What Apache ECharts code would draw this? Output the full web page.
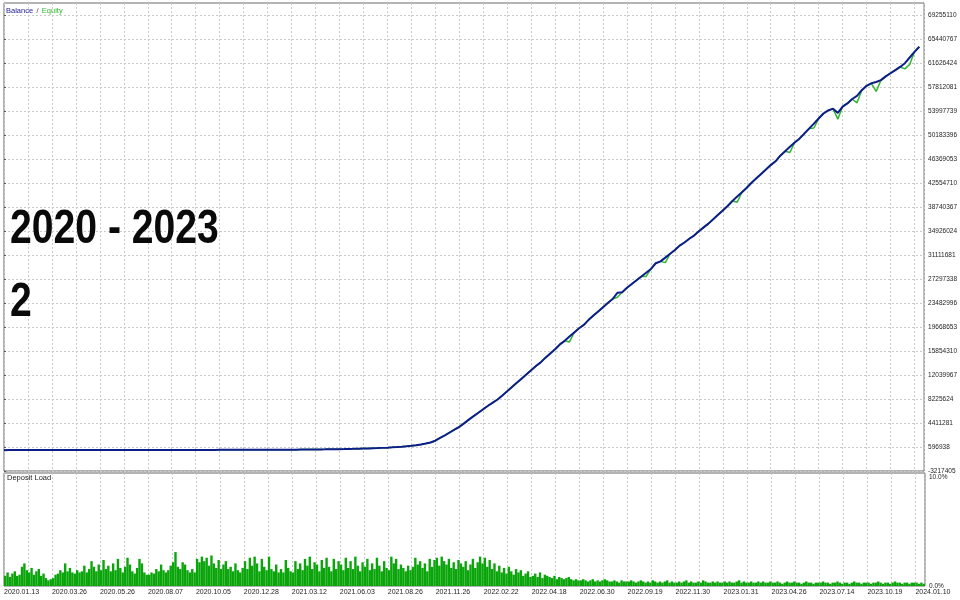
<!DOCTYPE html>
<html><head><meta charset="utf-8">
<script src="https://cdn.jsdelivr.net/npm/echarts@6/dist/echarts.min.js"></script>
<style>html,body{margin:0;padding:0;background:#fff}#c{width:960px;height:600px}</style>
</head><body><div id="c"></div>
<script>
// x axis date labels (one every 20 deal units)
const dateLabels = ['2020.01.13','2020.03.26','2020.05.26','2020.08.07','2020.10.05','2020.12.28','2021.03.12','2021.06.03','2021.08.26','2021.11.26','2022.02.22','2022.04.18','2022.06.30','2022.09.19','2022.11.30','2023.01.31','2023.04.26','2023.07.14','2023.10.19','2024.01.10'];
// right axis tick labels of the balance panel
const balanceTicks = ['-3217405','596938','4411281','8225624','12039967','15854310','19668653','23482996','27297338','31111681','34926024','38740367','42554710','46369053','50183396','53997739','57812081','61626424','65440767','69255110'];
// balance, one value every 2 deal units
const balance = [
100000,100300,100900,101200,101900,102300,103000,103400,104100,104900,
105300,106100,106600,107400,108300,108800,109700,110300,111200,112100,
112700,113600,114600,115200,116200,117000,118100,118800,119900,121000,
121800,122900,124100,125000,126200,127400,128400,129700,131000,132100,
133500,134900,136100,137600,139200,140500,142100,143800,145300,147100,
148900,150500,152600,154300,156500,158400,160800,162900,165500,167800,
170000,175000,181000,186000,194000,201000,212000,220000,233000,245000,
258000,272000,290000,305000,326000,348000,370000,398000,425000,458000,
495000,540000,590000,650000,720000,800000,890000,1010000,1150000,1320000,
1600000,2050000,2450000,2900000,3350000,3800000,4350000,4950000,5500000,6050000,
6600000,7150000,7650000,8150000,8790000,9450000,10120000,10790000,11460000,12130000,
12800000,13460000,14050000,14800000,15470000,16140000,16900000,17470000,18140000,18810000,
19470000,20000000,20810000,21480000,22150000,22820000,23480000,24120000,25100000,25200000,
25900000,26500000,27100000,27700000,28300000,28900000,29800000,30100000,30700000,31300000,
31900000,32600000,33100000,33700000,34200000,34900000,35500000,36100000,36800000,37500000,
38200000,38900000,39700000,40400000,41100000,41800000,42600000,43300000,44000000,44700000,
45400000,46000000,46900000,47600000,48300000,49000000,49600000,50400000,51200000,52000000,
52800000,53600000,54100000,54350000,53700000,54700000,55200000,55900000,56400000,57300000,
58000000,58400000,58600000,58900000,59500000,60000000,60500000,61000000,61600000,62500000,
63400000,64200000
];
// equity drawdowns: [balance index, equity value]
const equityDips = [[118,17300000],[128,24400000],[134,27700000],[138,29900000],[153,39500000],[164,47400000],[169,51300000],[174,52700000],[178,55300000],[182,57100000],[188,60700000],[189,61400000]];
// deposit load %, one value per deal unit
const depositLoad = [
0.9,1.2,0.8,1.1,1.3,0.9,1.0,1.7,2.0,1.4,1.2,1.6,1.0,1.3,1.5,0.9,1.1,0.7,0.5,0.6,
0.7,1.0,1.1,1.4,1.2,2.0,1.3,1.6,1.2,1.1,1.4,1.2,1.3,1.8,1.2,1.5,2.2,1.7,1.3,1.9,
1.4,2.3,1.5,1.8,1.3,2.0,1.4,2.4,1.6,1.2,1.7,2.5,1.9,1.3,1.1,1.6,2.4,2.0,1.2,1.0,
1.0,1.2,1.1,1.5,1.3,1.9,1.4,1.2,1.4,1.8,2.1,3.0,1.7,1.5,2.1,1.9,1.4,1.2,1.5,1.2,
2.4,2.1,2.6,2.2,2.5,1.8,2.7,2.0,1.6,2.3,1.5,1.9,2.2,1.5,1.7,1.3,2.0,1.4,1.2,1.6,
2.2,1.5,2.5,1.8,2.6,2.0,1.3,2.4,1.7,1.4,2.6,1.5,1.3,1.9,1.2,1.5,1.2,2.3,1.6,1.3,
1.2,2.2,1.5,2.0,1.4,2.4,1.8,2.6,1.5,2.1,1.9,1.3,2.3,1.6,2.5,1.7,1.3,2.4,1.5,2.2,
1.9,1.4,2.5,1.6,2.2,1.5,2.6,1.8,1.3,2.1,1.7,2.4,1.4,2.0,1.5,2.5,1.8,1.3,2.2,1.6,
1.4,2.6,2.0,2.4,1.5,1.9,1.6,1.3,1.8,1.4,1.7,2.5,1.9,2.2,1.6,2.0,1.3,2.4,1.7,2.3,
2.5,1.8,2.6,2.2,1.9,2.4,1.6,2.1,1.5,2.3,2.0,1.7,2.2,1.4,1.9,2.4,1.6,2.1,2.6,2.0,
2.5,1.7,2.3,1.5,2.0,1.3,1.8,1.2,1.6,1.1,1.7,1.3,1.0,1.5,1.2,1.4,0.9,1.1,1.3,0.8,
0.9,1.1,0.8,1.2,0.7,1.0,0.9,0.8,0.7,0.9,0.6,0.8,0.7,0.6,0.7,0.8,0.6,0.5,0.6,0.5,
0.5,0.6,0.5,0.4,0.5,0.6,0.4,0.5,0.4,0.5,0.6,0.5,0.4,0.4,0.5,0.4,0.3,0.5,0.4,0.4,
0.4,0.5,0.4,0.3,0.4,0.5,0.4,0.3,0.4,0.3,0.5,0.4,0.3,0.4,0.3,0.4,0.5,0.3,0.4,0.3,
0.3,0.4,0.3,0.4,0.5,0.3,0.4,0.3,0.3,0.4,0.3,0.5,0.4,0.3,0.3,0.4,0.3,0.4,0.3,0.3,
0.4,0.3,0.4,0.3,0.3,0.4,0.5,0.3,0.4,0.3,0.3,0.4,0.3,0.3,0.4,0.3,0.4,0.3,0.3,0.4,
0.3,0.3,0.4,0.3,0.2,0.3,0.4,0.3,0.3,0.4,0.3,0.3,0.2,0.3,0.4,0.3,0.3,0.2,0.3,0.3,
0.3,0.4,0.3,0.3,0.2,0.3,0.3,0.4,0.3,0.2,0.3,0.3,0.2,0.3,0.4,0.3,0.3,0.2,0.3,0.3,
0.3,0.2,0.3,0.3,0.4,0.3,0.2,0.3,0.3,0.2,0.3,0.4,0.3,0.3,0.2,0.3,0.3,0.2,0.3,0.3,
0.3,0.2,0.3,0.2
];
const titleLines = ['2020 - 2023', '2'];

const dipMap = new Map(equityDips);
const balData = balance.map((v, i) => [i * 2, v]);
const eqData = balance.map((v, i) => [i * 2, dipMap.has(i) ? dipMap.get(i) : v]);
const depData = depositLoad.map((v, i) => [i + 0.5, v]);
const tickVals = balanceTicks.map(Number);

const grid = { color: '#c9c9c9', type: [2, 2], width: 1 };
const lblFont = 'Liberation Sans, Arial, sans-serif';
const titleStyle = { fill: '#0a0a0a', fontSize: 48, fontWeight: 'bold',
  fontFamily: 'Liberation Sans, Arial, sans-serif', verticalAlign: 'middle' };
const chart = echarts.init(document.getElementById('c'), null, { renderer: 'canvas' });
chart.setOption({
  animation: false,
  backgroundColor: '#ffffff',
  grid: [
    { left: 4, top: 3, width: 921, height: 468, show: true, borderColor: '#686868', borderWidth: 1 },
    { left: 4, top: 473, width: 921, height: 113, show: true, borderColor: '#686868', borderWidth: 1 }
  ],
  xAxis: [
    { gridIndex: 0, type: 'value', min: 0, max: 384, interval: 10,
      axisLine: { show: false }, axisTick: { show: false }, axisLabel: { show: false },
      splitLine: { show: true, lineStyle: grid } },
    { gridIndex: 1, type: 'value', min: 0, max: 384, interval: 10,
      axisLine: { show: false }, axisTick: { show: false },
      axisLabel: { show: true, margin: 3, fontSize: 7, color: '#1e1e1e', fontFamily: lblFont, align: 'left',
        hideOverlap: false, showMinLabel: true, showMaxLabel: true,
        formatter: v => (v % 20 === 0 && dateLabels[v / 20]) ? dateLabels[v / 20] : '' },
      splitLine: { show: true, lineStyle: grid } }
  ],
  yAxis: [
    { gridIndex: 0, type: 'value', position: 'right', min: -3217405, max: 71162281,
      axisLine: { show: false },
      axisTick: { show: true, customValues: tickVals, length: 2, lineStyle: { color: '#555' } },
      axisLabel: { customValues: tickVals, margin: 4, fontSize: 6.5, color: '#1e1e1e', fontFamily: lblFont,
        formatter: v => String(Math.round(v)) },
      splitLine: { show: true, lineStyle: grid } },
    { gridIndex: 1, type: 'value', position: 'right', min: 0, max: 10,
      axisLine: { show: false }, axisTick: { show: false }, splitLine: { show: false },
      axisLabel: { customValues: [0, 10], margin: 4, fontSize: 6.5, color: '#1e1e1e', fontFamily: lblFont,
        formatter: v => v >= 10 ? '{t|10.0%}' : '{b|0.0%}',
        rich: { t: { padding: [8, 0, 0, 0], fontSize: 6.5, fontFamily: lblFont, color: '#1e1e1e' },
                b: { fontSize: 6.5, fontFamily: lblFont, color: '#1e1e1e' } } } }
  ],
  graphic: [
    { type: 'text', left: 6, top: 5, z: 100, style: {
      text: '{b|Balance} {s|/} {e|Equity}',
      rich: { b: { fill: '#1c1c8e', fontSize: 7.5, fontFamily: lblFont },
              s: { fill: '#555', fontSize: 7.5, fontFamily: lblFont },
              e: { fill: '#33b833', fontSize: 7.5, fontFamily: lblFont } } } },
    { type: 'text', left: 7, top: 474, z: 100, style: { text: 'Deposit Load', fill: '#1e1e1e', fontSize: 7.5, fontFamily: lblFont } },
    { type: 'text', x: 10, y: 230, scaleX: 0.815, z: 100, style: Object.assign({ text: titleLines[0] }, titleStyle) },
    { type: 'text', x: 10, y: 303, scaleX: 0.815, z: 100, style: Object.assign({ text: titleLines[1] }, titleStyle) }
  ],
  series: [
    { name: 'Equity', type: 'line', xAxisIndex: 0, yAxisIndex: 0, data: eqData, showSymbol: false, symbol: 'none',
      lineStyle: { color: '#2fb52f', width: 1.5 }, z: 2 },
    { name: 'Balance', type: 'line', xAxisIndex: 0, yAxisIndex: 0, data: balData, showSymbol: false, symbol: 'none',
      lineStyle: { color: '#0d1d8a', width: 2 }, z: 3 },
    { name: 'Deposit Load', type: 'bar', xAxisIndex: 1, yAxisIndex: 1, data: depData, barWidth: 2.4,
      itemStyle: { color: '#0aa50a' } }
  ]
});
</script></body></html>
